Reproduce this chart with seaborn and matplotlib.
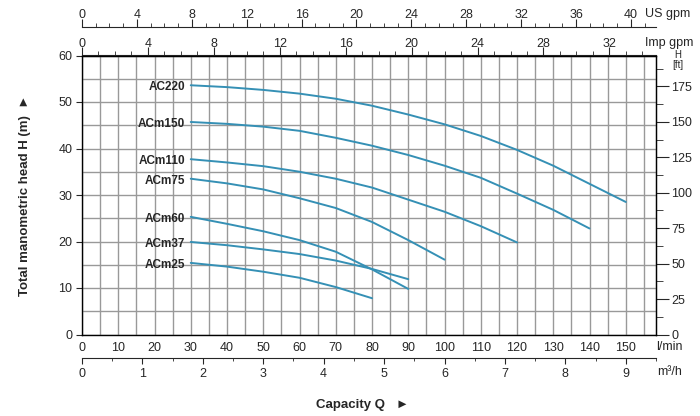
import numpy as np
import pandas as pd
import matplotlib.pyplot as plt
import seaborn as sns

sns.set_style("white")
plt.rcParams['font.family'] = ['Liberation Sans Narrow', 'Liberation Sans', 'DejaVu Sans']

# curve data (Q in l/min, H in m)
q_ac220 = [30, 40, 50, 60, 70, 80, 90, 100, 110, 120, 130, 140, 150]
h_ac220 = [53.6, 53.2, 52.6, 51.8, 50.7, 49.2, 47.3, 45.2, 42.7, 39.7, 36.3, 32.4, 28.5]
q_acm150 = [30, 40, 50, 60, 70, 80, 90, 100, 110, 120, 130, 140]
h_acm150 = [45.7, 45.3, 44.7, 43.8, 42.3, 40.6, 38.6, 36.3, 33.7, 30.3, 26.8, 22.8]
q_acm110 = [30, 40, 50, 60, 70, 80, 90, 100, 110, 120]
h_acm110 = [37.7, 37.0, 36.2, 35.0, 33.5, 31.6, 29.0, 26.4, 23.3, 19.8]
q_acm75 = [30, 40, 50, 60, 70, 80, 90, 100]
h_acm75 = [33.5, 32.5, 31.2, 29.3, 27.2, 24.2, 20.3, 16.1]
q_acm60 = [30, 40, 50, 60, 70, 80, 90]
h_acm60 = [25.3, 23.8, 22.2, 20.3, 17.8, 14.0, 9.8]
q_acm37 = [30, 40, 50, 60, 70, 80, 90]
h_acm37 = [19.9, 19.2, 18.3, 17.3, 15.9, 14.1, 11.9]
q_acm25 = [30, 40, 50, 60, 70, 80]
h_acm25 = [15.4, 14.6, 13.5, 12.2, 10.2, 7.8]

models = ["AC220", "ACm150", "ACm110", "ACm75", "ACm60", "ACm37", "ACm25"]
q_all = [q_ac220, q_acm150, q_acm110, q_acm75, q_acm60, q_acm37, q_acm25]
h_all = [h_ac220, h_acm150, h_acm110, h_acm75, h_acm60, h_acm37, h_acm25]

lmin_ticks = list(range(0, 151, 10))
m3h_ticks = list(range(0, 10))
us_ticks = list(range(0, 41, 4))
imp_ticks = list(range(0, 33, 4))
h_ticks = list(range(0, 61, 10))
ft_ticks = list(range(0, 176, 25))

df = pd.concat([pd.DataFrame({"model": m, "Q": q, "H": h})
                for m, q, h in zip(models, q_all, h_all)])

blue = "#3590b5"
grid_c = "#999999"

fig = plt.figure(figsize=(7, 4.16), dpi=100)
top_px, bot_px = 55.5, 334.5
ph = bot_px - top_px
ax = fig.add_axes([82/700, 1-bot_px/416, (656-82)/700, ph/416])

sns.lineplot(data=df, x="Q", y="H", hue="model", units="model", estimator=None,
             palette=[blue]*len(models), legend=False, lw=1.4, ax=ax, sort=False)

for m, q, h in zip(models, q_all, h_all):
    ax.text(q[0] - 1.5, h[0] - 0.4, m, ha="right", va="center",
            fontsize=8.5, fontweight="bold")

ax.set_xlim(0, 9.5*1000/60)
ax.set_ylim(0, 60)
ax.set_xticks(lmin_ticks)
ax.set_xticks(np.arange(0, 158, 5), minor=True)
ax.set_yticks(h_ticks)
ax.set_yticks(np.arange(0, 61, 5), minor=True)
ax.grid(which="both", color=grid_c, lw=1)
ax.set_axisbelow(True)
ax.set_xlabel("")
ax.set_ylabel("")
for s in ax.spines.values():
    s.set_color("black")
    s.set_linewidth(1)
ax.tick_params(axis="x", which="both", length=0, pad=5.5, labelsize=9)
ax.tick_params(axis="y", which="major", length=4, direction="out", pad=3, labelsize=9, left=True)
ax.tick_params(axis="y", which="minor", length=0)

# right axis: feet
ry = ax.secondary_yaxis("right", functions=(lambda m: m*3.28084, lambda f: f/3.28084))
ry.set_yticks(ft_ticks)
ry.set_yticks(np.arange(0, 190, 12.5), minor=True)
ry.tick_params(which="major", length=9, direction="out", pad=2, labelsize=9)
ry.tick_params(which="minor", length=5, direction="out")

# top axis: Imp gpm (on main top spine)
imp = ax.secondary_xaxis("top", functions=(lambda q: q/4.54609, lambda g: g*4.54609))
imp.set_xticks(imp_ticks)
imp.set_xticks(np.arange(0, 35, 1), minor=True)
imp.tick_params(which="major", length=6, direction="out", pad=-2, labelsize=9)
imp.tick_params(which="minor", length=3, direction="out")

# top axis: US gpm
us = ax.secondary_xaxis(1 + (top_px - 26.7)/ph, functions=(lambda q: q/3.78541, lambda g: g*3.78541))
us.set_xticks(us_ticks)
us.set_xticks(np.arange(0, 42, 1), minor=True)
us.tick_params(which="major", length=6, direction="out", pad=-2, labelsize=9)
us.tick_params(which="minor", length=3, direction="out")

# bottom axis: m3/h
m3 = ax.secondary_xaxis(-(358 - bot_px)/ph, functions=(lambda q: q*0.06, lambda v: v/0.06))
m3.set_xticks(m3h_ticks)
m3.set_xticks(np.arange(0, 9.6, 0.5), minor=True)
m3.tick_params(which="major", length=4, direction="out", pad=3, labelsize=9)
m3.tick_params(which="minor", length=2.5, direction="out")

# unit labels
fig.text(690/700, 1-14/416, "US gpm", ha="right", va="center", fontsize=9)
fig.text(693/700, 1-43/416, "Imp gpm", ha="right", va="center", fontsize=9)
fig.text(683/700, 1-347/416, "l/min", ha="right", va="center", fontsize=9)
fig.text(682/700, 1-372/416, "m³/h", ha="right", va="center", fontsize=9)
fig.text(678/700, 1-60/416, "H\n[ft]", ha="center", va="center", fontsize=7, linespacing=0.9)

fig.text(25/700, 1-195/416, "Total manometric head H (m)  ►", rotation=90,
         ha="center", va="center", fontsize=9.5, fontweight="bold")
fig.text(362/700, 1-405/416, "Capacity Q   ►", ha="center", va="center",
         fontsize=9.5, fontweight="bold")

fig.savefig("out.png", dpi=100)
